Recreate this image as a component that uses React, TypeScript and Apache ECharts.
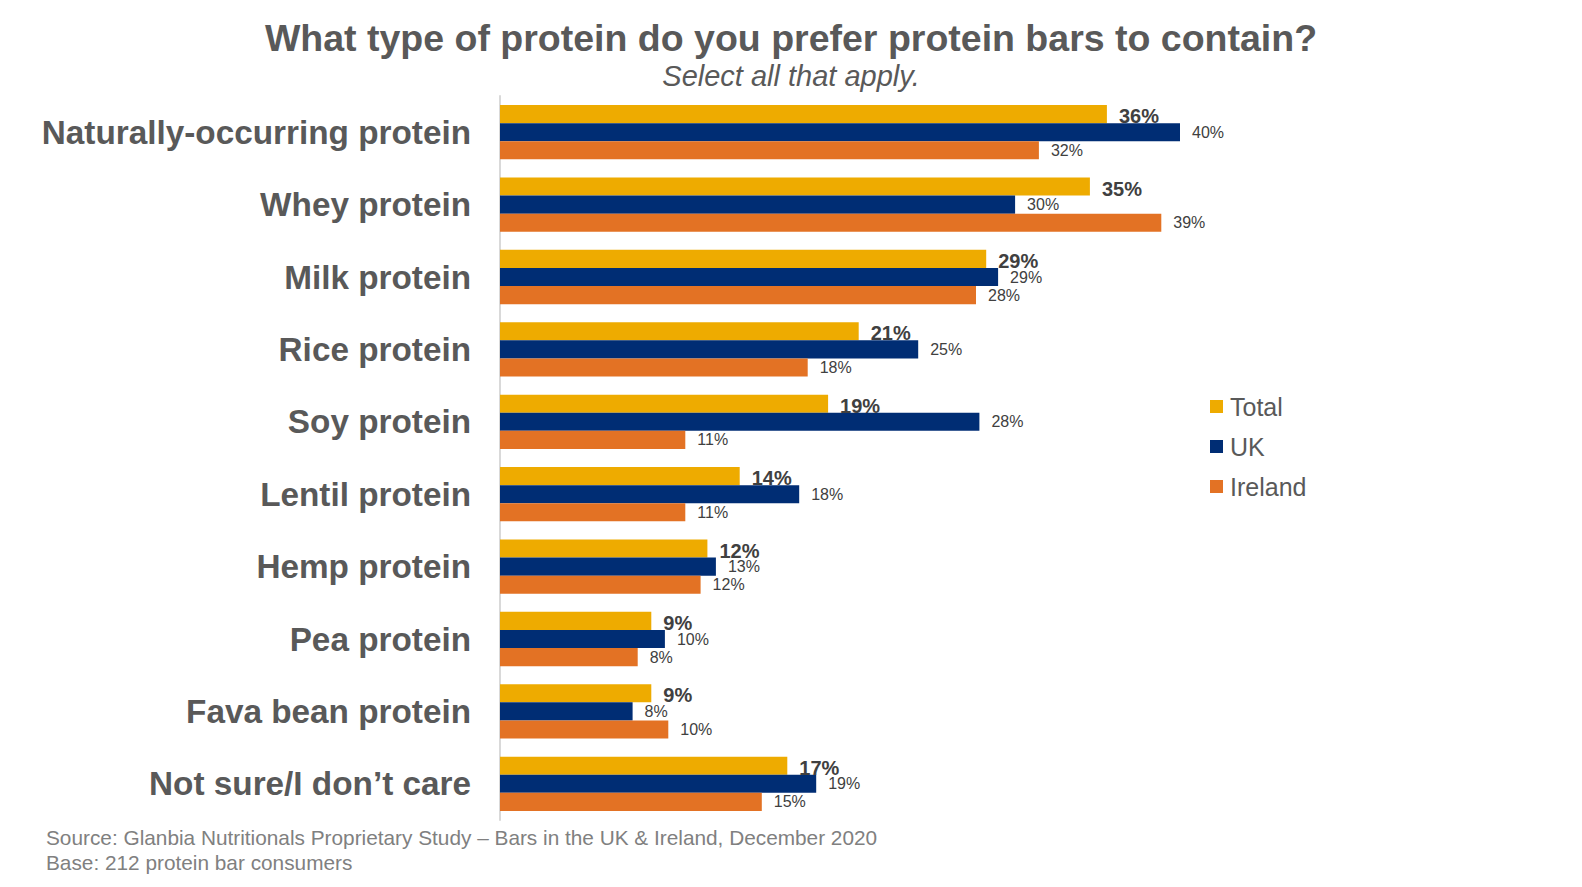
import React, { useEffect, useRef } from "react";
import * as echarts from "echarts";

const categories = [
  "Naturally-occurring protein",
  "Whey protein",
  "Milk protein",
  "Rice protein",
  "Soy protein",
  "Lentil protein",
  "Hemp protein",
  "Pea protein",
  "Fava bean protein",
  "Not sure/I don\u2019t care",
];
const totalValues = [35.7, 34.7, 28.6, 21.1, 19.3, 14.1, 12.2, 8.9, 8.9, 16.9];
const ukValues = [40.0, 30.3, 29.3, 24.6, 28.2, 17.6, 12.7, 9.7, 7.8, 18.6];
const irelandValues = [31.7, 38.9, 28.0, 18.1, 10.9, 10.9, 11.8, 8.1, 9.9, 15.4];
const seriesNames = ["Total", "UK", "Ireland"];
const colors = ["#EEAB00", "#002D74", "#E37224"];

const titleText = "What type of protein do you prefer protein bars to contain?";
const subtitleText = "Select all that apply.";
const sourceText = "Source: Glanbia Nutritionals Proprietary Study \u2013 Bars in the UK & Ireland, December 2020";
const baseText = "Base: 212 protein bar consumers";

const FONT = "'Liberation Sans', Arial, sans-serif";

export default function App() {
  const ref = useRef<HTMLDivElement>(null);
  useEffect(() => {
    document.body.style.margin = "0";
    if (!ref.current) return;
    const chart = echarts.init(ref.current, null, { renderer: "svg" });
    const fmt = (p: any) => Math.round(p.value) + "%";
    const mk = (name: string, data: number[], color: string, bold: boolean) => ({
      name,
      type: "bar",
      data,
      barGap: "0%",
      barCategoryGap: "25%",
      itemStyle: { color },
      label: {
        show: true,
        position: "right",
        distance: 12,
        formatter: fmt,
        color: "#404040",
        fontFamily: FONT,
        fontSize: bold ? 20 : 16,
        fontWeight: bold ? "bold" : "normal",
        offset: bold ? [0, 2] : [0, 0],
      },
    });
    chart.setOption({
      animation: false,
      backgroundColor: "#ffffff",
      textStyle: { fontFamily: FONT },
      title: [
        {
          text: titleText,
          left: 791,
          top: 19,
          padding: 0,
          textAlign: "center",
          textStyle: { fontFamily: FONT, fontSize: 37.5, fontWeight: "bold", color: "#595959" },
        },
        {
          text: subtitleText,
          left: 791,
          top: 61,
          padding: 0,
          textAlign: "center",
          textStyle: { fontFamily: FONT, fontSize: 29, fontStyle: "italic", fontWeight: "normal", color: "#595959" },
        },
        {
          text: sourceText,
          left: 46,
          top: 827,
          padding: 0,
          textStyle: { fontFamily: FONT, fontSize: 20.8, fontWeight: "normal", color: "#808080" },
        },
        {
          text: baseText,
          left: 46,
          top: 852,
          padding: 0,
          textStyle: { fontFamily: FONT, fontSize: 20.8, fontWeight: "normal", color: "#808080" },
        },
      ],
      legend: {
        orient: "vertical",
        left: 1205,
        top: 389,
        itemWidth: 13,
        itemHeight: 13,
        itemGap: 15,
        icon: "rect",
        data: seriesNames,
        textStyle: { fontFamily: FONT, fontSize: 25, color: "#595959", padding: [0, 0, 0, 2] },
      },
      grid: { left: 500, top: 96, width: 850, height: 724, containLabel: false },
      xAxis: {
        type: "value",
        min: 0,
        max: 50,
        show: false,
      },
      yAxis: {
        type: "category",
        data: categories,
        inverse: true,
        axisLine: { show: true, lineStyle: { color: "#D9D9D9", width: 2 } },
        axisTick: { show: false },
        axisLabel: {
          margin: 29,
          fontFamily: FONT,
          fontSize: 33.3,
          fontWeight: "bold",
          color: "#595959",
        },
      },
      series: [
        mk(seriesNames[0], totalValues, colors[0], true),
        mk(seriesNames[1], ukValues, colors[1], false),
        mk(seriesNames[2], irelandValues, colors[2], false),
      ],
    });
    return () => chart.dispose();
  }, []);
  return <div ref={ref} style={{ width: 1582, height: 887 }} />;
}
